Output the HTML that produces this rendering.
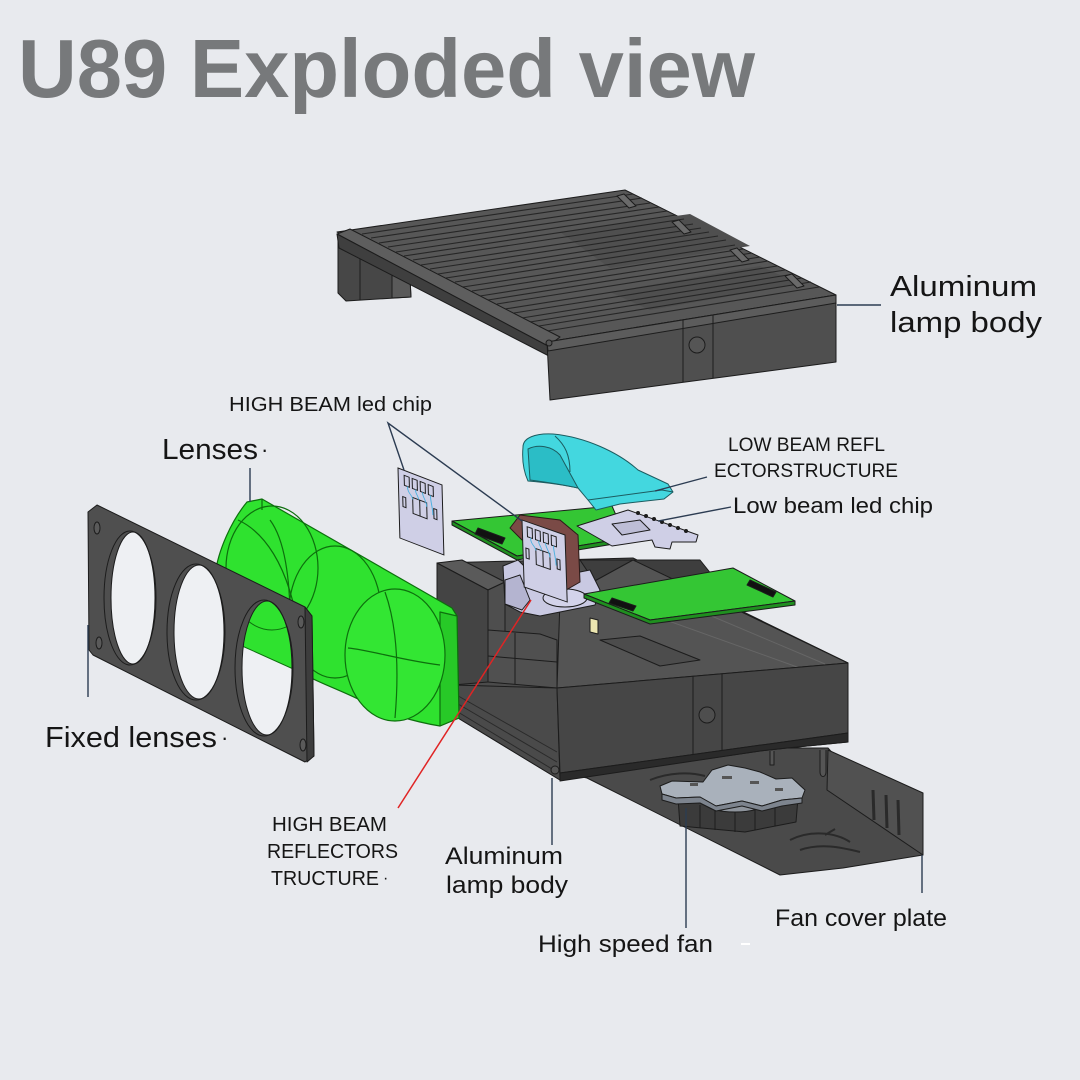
<!DOCTYPE html>
<html><head><meta charset="utf-8"><style>
html,body{margin:0;padding:0;background:#e8eaee;}
svg{display:block;}
</style></head><body>
<svg width="1080" height="1080" viewBox="0 0 1080 1080" xmlns="http://www.w3.org/2000/svg" font-family="'Liberation Sans', sans-serif">
<defs>
  <clipPath id="h1"><ellipse cx="133" cy="598" rx="22" ry="66"/></clipPath>
  <clipPath id="h2"><ellipse cx="199" cy="632" rx="25" ry="67"/></clipPath>
  <clipPath id="h3"><ellipse cx="267" cy="668" rx="25" ry="67"/></clipPath>
</defs>
<rect width="1080" height="1080" fill="#e8eaee"/>

<!-- Title -->
<text x="18" y="97" font-size="83" font-weight="bold" fill="#77797b" textLength="737" lengthAdjust="spacingAndGlyphs">U89 Exploded view</text>

<!-- ============ TOP ALUMINUM LAMP BODY ============ -->
<g stroke="#1c1c1c" stroke-width="1" stroke-linejoin="round">
  <polygon points="338,240 410,278 411,297 346,301 338,293" fill="#474747"/>
  <polygon points="392,270 410,280 411,297 392,298" fill="#5a5a5a"/>
  <line x1="360" y1="252" x2="360" y2="300"/>
  <polygon points="337,232 625,190 836,295 547,342" fill="#575757"/>
  <polygon points="560,232 690,214 750,246 610,268" fill="#4f4f4f" stroke="none"/>
  <polygon points="610,292 760,266 800,284 650,310" fill="#4f4f4f" stroke="none"/>
</g>
<g stroke="#262626" stroke-width="1.1">
  <line x1="362" y1="234" x2="633" y2="194"/>
  <line x1="371" y1="238" x2="642" y2="198"/>
  <line x1="379" y1="243" x2="650" y2="203"/>
  <line x1="388" y1="247" x2="659" y2="207"/>
  <line x1="396" y1="252" x2="667" y2="211"/>
  <line x1="404" y1="256" x2="676" y2="215"/>
  <line x1="413" y1="260" x2="684" y2="219"/>
  <line x1="421" y1="265" x2="693" y2="224"/>
  <line x1="430" y1="269" x2="701" y2="228"/>
  <line x1="438" y1="274" x2="709" y2="232"/>
  <line x1="446" y1="278" x2="718" y2="236"/>
  <line x1="455" y1="282" x2="726" y2="240"/>
  <line x1="463" y1="287" x2="735" y2="245"/>
  <line x1="472" y1="291" x2="743" y2="249"/>
  <line x1="480" y1="296" x2="752" y2="253"/>
  <line x1="488" y1="300" x2="760" y2="257"/>
  <line x1="497" y1="304" x2="768" y2="261"/>
  <line x1="505" y1="309" x2="777" y2="266"/>
  <line x1="514" y1="313" x2="785" y2="270"/>
  <line x1="522" y1="318" x2="794" y2="274"/>
  <line x1="530" y1="322" x2="802" y2="278"/>
  <line x1="539" y1="326" x2="811" y2="282"/>
  <line x1="547" y1="331" x2="819" y2="287"/>
</g>
<g stroke="#1c1c1c" stroke-width="1" stroke-linejoin="round">
  <polygon points="617,196 624,194 636,206 629,208" fill="#6a6a6a"/>
  <polygon points="672,222 679,220 691,232 684,234" fill="#6a6a6a"/>
  <polygon points="730,250 737,248 749,260 742,262" fill="#6a6a6a"/>
  <polygon points="785,276 792,274 804,286 797,288" fill="#6a6a6a"/>
  <polygon points="337,234 350,229 560,337 548,346" fill="#5e5e5e"/>
  <polygon points="337,234 548,346 549,356 339,248" fill="#3f3f3f"/>
  <polygon points="547,342 836,295 836,362 550,400" fill="#4f4f4f"/>
  <polygon points="547,342 836,295 836,303 548,351" fill="#5c5c5c"/>
  <line x1="683" y1="320" x2="683" y2="382"/>
  <line x1="713" y1="315" x2="713" y2="378"/>
  <circle cx="697" cy="345" r="8" fill="#555"/>
  <circle cx="549" cy="343" r="3" fill="#555"/>
</g>

<!-- ============ FAN COVER PLATE ============ -->
<g stroke="#1c1c1c" stroke-width="1" stroke-linejoin="round">
  <polygon points="560,772 760,748 828,748 923,855 843,868 780,875 587,778" fill="#4a4a4a"/>
  <polygon points="828,750 923,793 923,855 827,790" fill="#515151"/>
  <line x1="873" y1="790" x2="874" y2="820" stroke-width="3" stroke="#2a2a2a"/>
  <line x1="886" y1="795" x2="887" y2="828" stroke-width="3" stroke="#2a2a2a"/>
  <line x1="898" y1="800" x2="899" y2="835" stroke-width="3" stroke="#2a2a2a"/>
  <path d="M790,840 C810,830 835,832 850,842 M800,850 C820,843 840,847 860,852 M825,835 l10,-6" fill="none" stroke="#2a2a2a" stroke-width="2"/>
  <path d="M650,780 C670,772 690,772 705,776" fill="none" stroke="#2a2a2a" stroke-width="2"/>
</g>

<!-- ============ MAIN BODY ============ -->
<g stroke="#1c1c1c" stroke-width="1" stroke-linejoin="round">
  <polygon points="437,563 633,558 848,663 848,742 787,748 760,751 560,780 453,715 437,702" fill="#4b4b4b"/>
  <polygon points="580,560 700,560 720,585 600,590" fill="#3e3e3e"/>
  <polygon points="560,600 633,560 848,663 557,688" fill="#545454"/>
  <line x1="610" y1="600" x2="800" y2="668" stroke="#666"/>
  <line x1="650" y1="590" x2="825" y2="664" stroke="#666"/>
  <polygon points="600,640 640,636 700,660 660,666" fill="#4c4c4c"/>
  <polygon points="437,563 462,560 505,582 488,590" fill="#5a5a5a"/>
  <polygon points="437,563 488,590 488,682 453,685 437,702" fill="#444"/>
  <polygon points="488,590 505,582 505,640 488,645" fill="#4e4e4e"/>
  <polygon points="488,630 540,634 557,640 557,688 488,682" fill="#505050"/>
  <line x1="488" y1="656" x2="557" y2="662"/>
  <line x1="515" y1="633" x2="515" y2="684"/>
  <polygon points="453,685 557,688 560,780 453,715" fill="#4a4a4a"/>
  <line x1="453" y1="693" x2="557" y2="752" stroke="#2a2a2a"/>
  <line x1="453" y1="701" x2="557" y2="762" stroke="#2a2a2a"/>
  <line x1="453" y1="709" x2="557" y2="772" stroke="#2a2a2a"/>
  <polygon points="557,688 848,663 848,733 560,773" fill="#464646"/>
  <line x1="693" y1="676" x2="693" y2="755"/>
  <line x1="722" y1="674" x2="722" y2="751"/>
  <circle cx="707" cy="715" r="8" fill="#4e4e4e"/>
  <polygon points="560,773 848,733 848,742 787,748 760,751 560,781" fill="#2a2a2a"/>
  <circle cx="555" cy="770" r="4" fill="#555"/>
  <path d="M770,751 l0,14 l4,0 l0,-14 M820,750 l0,22 c0,6 6,6 6,0 l0,-22" fill="#555"/>
  <polygon points="590,618 598,620 598,634 590,632" fill="#ece6b0"/>
</g>

<!-- ============ FAN ============ -->
<g stroke="#1c1c1c" stroke-width="1" stroke-linejoin="round">
  <polygon points="678,798 798,798 796,822 745,832 680,826" fill="#3b3b3b"/>
  <line x1="700" y1="805" x2="700" y2="828"/>
  <line x1="715" y1="806" x2="715" y2="830"/>
  <line x1="735" y1="806" x2="735" y2="832"/>
  <line x1="755" y1="806" x2="755" y2="830"/>
  <line x1="775" y1="804" x2="775" y2="826"/>
  <ellipse cx="735" cy="803" rx="30" ry="9" fill="#8e949c"/>
  <polygon points="660,786 672,781 703,782 712,770 728,765 745,768 760,772 776,779 792,778 805,790 802,798 782,800 762,806 742,801 716,806 700,797 676,798 662,794" fill="#a9b1bb"/>
  <polygon points="662,794 676,798 700,797 716,806 742,801 762,806 782,800 802,798 802,803 782,806 762,811 742,806 716,811 700,803 676,804 662,800" fill="#7d848e"/>
  <rect x="690" y="783" width="8" height="3" fill="#555" stroke="none"/>
  <rect x="722" y="776" width="10" height="3" fill="#555" stroke="none"/>
  <rect x="750" y="781" width="9" height="3" fill="#555" stroke="none"/>
  <rect x="775" y="788" width="8" height="3" fill="#555" stroke="none"/>
</g>

<!-- ============ GREEN LENS ============ -->
<g stroke="#0d6f0d" stroke-width="1.2" stroke-linejoin="round">
  <path d="M247,502 L262,499 L452,608 L457,616 L459,718 L440,726 C415,722 380,712 360,700 C340,690 312,680 300,672 L240,645 C222,625 212,600 215,575 C218,550 232,520 247,502 Z" fill="#2fe22f"/>
  <polygon points="440,612 457,616 459,718 440,726" fill="#27c927"/>
  <path d="M238,520 C260,530 290,560 300,640" fill="none"/>
  <ellipse cx="272" cy="568" rx="46" ry="62" fill="none"/>
  <ellipse cx="335" cy="612" rx="46" ry="66" fill="none"/>
  <ellipse cx="395" cy="655" rx="50" ry="66" fill="#33e633"/>
  <path d="M385,592 C395,620 400,660 395,718 M348,648 C370,650 400,660 440,665 M270,520 C285,540 290,580 290,620" fill="none"/>
  <line x1="262" y1="499" x2="262" y2="510"/>
</g>

<!-- ============ FIXED LENS FRAME ============ -->
<g stroke="#1c1c1c" stroke-width="1" stroke-linejoin="round">
  <path fill-rule="evenodd" fill="#4f4f4f" d="M88,512 L97,505 L305,607 L312,616 L314,756 L305,762 L93,655 L89,650 Z"/>
  <g clip-path="url(#h1)"><rect x="100" y="520" width="70" height="160" fill="#eef0f3" stroke="none"/></g>
  <g clip-path="url(#h2)"><rect x="165" y="555" width="70" height="160" fill="#eef0f3" stroke="none"/></g>
  <g clip-path="url(#h3)">
    <rect x="235" y="595" width="70" height="160" fill="#eef0f3" stroke="none"/>
    <path d="M247,502 L262,499 L452,608 L457,616 L459,718 L440,726 C415,722 380,712 360,700 C340,690 312,680 300,672 L240,645 C222,625 212,600 215,575 C218,550 232,520 247,502 Z" fill="#2fe22f" stroke="#0d6f0d"/>
    <ellipse cx="272" cy="568" rx="46" ry="62" fill="none" stroke="#0d6f0d"/>
  </g>
  <ellipse cx="130" cy="598" rx="26" ry="67" fill="none"/>
  <ellipse cx="196" cy="632" rx="29" ry="68" fill="none"/>
  <ellipse cx="264" cy="668" rx="29" ry="68" fill="none"/>
  <ellipse cx="133" cy="598" rx="22" ry="66" fill="none"/>
  <ellipse cx="199" cy="632" rx="25" ry="67" fill="none"/>
  <ellipse cx="267" cy="668" rx="25" ry="67" fill="none"/>
  <polygon points="305,607 312,616 314,756 307,762" fill="#3d3d3d"/>
  <ellipse cx="97" cy="528" rx="3" ry="6" fill="#5a5a5a"/>
  <ellipse cx="99" cy="643" rx="3" ry="6" fill="#5a5a5a"/>
  <ellipse cx="301" cy="622" rx="3" ry="6" fill="#5a5a5a"/>
  <ellipse cx="303" cy="745" rx="3" ry="6" fill="#5a5a5a"/>
</g>

<!-- ============ UPPER LEFT PCB ============ -->
<g stroke="#1c1c1c" stroke-width="1" stroke-linejoin="round">
  <polygon points="452,521 612,506 626,538 517,556" fill="#34c634"/>
  <polygon points="452,521 517,556 626,538 626,542 517,560 452,525" fill="#1f8f1f"/>
  <polygon points="478,528 505,538 502,544 475,534" fill="#111"/>
</g>

<!-- Low beam chip -->
<g stroke="#1c1c1c" stroke-width="1" stroke-linejoin="round">
  <polygon points="577,526 628,510 698,535 696,542 672,542 670,549 655,547 652,540 612,546" fill="#cfcfe6"/>
  <polygon points="612,524 640,520 650,530 622,535" fill="#bdbdd6"/>
  <g fill="#1c1c1c" stroke="none">
    <circle cx="638" cy="513" r="2"/><circle cx="646" cy="516" r="2"/><circle cx="654" cy="519" r="2"/>
    <circle cx="662" cy="522" r="2"/><circle cx="670" cy="525" r="2"/><circle cx="678" cy="528" r="2"/>
    <circle cx="686" cy="531" r="2"/>
  </g>
</g>

<!-- Cyan reflector -->
<g stroke="#1c5c60" stroke-width="1" stroke-linejoin="round">
  <path d="M523,447 C523,438 535,433 553,434 C585,437 618,452 638,470 L668,484 L673,492 L664,499 L620,504 L596,510 L588,500 L578,488 C560,484 540,482 528,481 C523,470 522,458 523,447 Z" fill="#43d7df"/>
  <path d="M528,449 C538,444 552,446 560,455 L578,488 C560,484 545,482 530,480 Z" fill="#2bbdc6"/>
  <path d="M588,500 L662,490 L673,492" fill="none"/>
  <path d="M555,436 C565,445 570,455 570,472" fill="none"/>
</g>

<!-- High beam chip 1 -->
<g transform="matrix(1,0.386,0.027,1,398,468)" stroke="#1c1c1c" stroke-width="1">
  <rect x="0" y="0" width="44" height="70" fill="#cfcfe6"/>
  <rect x="6" y="5" width="5" height="10" fill="#cfcfe6"/>
  <rect x="14" y="5" width="5" height="10" fill="#cfcfe6"/>
  <rect x="22" y="5" width="5" height="10" fill="#cfcfe6"/>
  <rect x="30" y="5" width="5" height="10" fill="#cfcfe6"/>
  <rect x="14" y="24" width="14" height="16" fill="#cfcfe6"/>
  <line x1="21" y1="24" x2="21" y2="40"/>
  <rect x="4" y="27" width="3" height="10" fill="#cfcfe6"/>
  <rect x="35" y="27" width="3" height="10" fill="#cfcfe6"/>
  <path d="M9,15 C9,22 14,22 14,26 M17,15 C17,20 20,20 20,24 M24,15 C24,20 28,22 28,28 M32,15 C32,22 34,26 34,34" fill="none" stroke="#4bb0e0"/>
</g>

<!-- Lavender bracket -->
<g stroke="#1c1c1c" stroke-width="1" stroke-linejoin="round">
  <polygon points="503,566 518,560 524,566 565,575 590,570 600,590 595,605 540,616 520,612 505,604" fill="#c9c9e2"/>
  <polygon points="505,580 520,575 530,600 522,610 505,604" fill="#b4b4d0"/>
  <ellipse cx="565" cy="598" rx="22" ry="9" fill="#d3d3ea"/>
</g>

<!-- Brown part -->
<polygon points="510,528 520,515 560,520 578,535 580,582 566,590 565,540 522,540" fill="#7a4a46" stroke="#2a1a18" stroke-width="1"/>

<!-- High beam chip 2 -->
<g transform="matrix(1,0.349,0.033,1,522,520)" stroke="#1c1c1c" stroke-width="1">
  <rect x="0" y="0" width="43" height="67" fill="#cfcfe6"/>
  <rect x="5" y="5" width="5" height="10" fill="#cfcfe6"/>
  <rect x="13" y="5" width="5" height="10" fill="#cfcfe6"/>
  <rect x="21" y="5" width="5" height="10" fill="#cfcfe6"/>
  <rect x="29" y="5" width="5" height="10" fill="#cfcfe6"/>
  <rect x="13" y="24" width="14" height="16" fill="#cfcfe6"/>
  <line x1="20" y1="24" x2="20" y2="40"/>
  <rect x="3" y="27" width="3" height="10" fill="#cfcfe6"/>
  <rect x="34" y="27" width="3" height="10" fill="#cfcfe6"/>
  <path d="M8,15 C8,22 13,22 13,26 M16,15 C16,20 19,20 19,24 M23,15 C23,20 27,22 27,28 M31,15 C31,22 33,26 33,34" fill="none" stroke="#4bb0e0"/>
</g>

<!-- Right PCB -->
<g stroke="#1c1c1c" stroke-width="1" stroke-linejoin="round">
  <polygon points="584,594 733,568 795,601 650,620" fill="#34c634"/>
  <polygon points="584,594 650,620 795,601 795,605 650,624 584,598" fill="#1f8f1f"/>
  <polygon points="612,598 636,606 633,611 609,603" fill="#111"/>
  <polygon points="750,580 776,592 773,597 747,585" fill="#111"/>
</g>

<!-- ============ CONNECTOR LINES ============ -->
<g stroke="#2c3c52" stroke-width="1.4" fill="none">
  <line x1="837" y1="305" x2="881" y2="305"/>
  <polyline points="404,470 388,423 522,521"/>
  <line x1="250" y1="468" x2="250" y2="502"/>
  <line x1="707" y1="477" x2="655" y2="491"/>
  <line x1="731" y1="507" x2="658" y2="521"/>
  <line x1="88" y1="625" x2="88" y2="697"/>
  <line x1="552" y1="778" x2="552" y2="845"/>
  <line x1="686" y1="808" x2="686" y2="928"/>
  <line x1="922" y1="855" x2="922" y2="893"/>
</g>
<line x1="398" y1="808" x2="531" y2="600" stroke="#e02424" stroke-width="1.5"/>
<rect x="741" y="943" width="9" height="2" fill="#ffffff"/>

<!-- ============ LABELS ============ -->
<g fill="#151515">
  <text x="890" y="296" font-size="29" textLength="147" lengthAdjust="spacingAndGlyphs">Aluminum</text>
  <text x="890" y="332" font-size="29" textLength="152" lengthAdjust="spacingAndGlyphs">lamp body</text>
  <text x="229" y="411" font-size="20" textLength="203" lengthAdjust="spacingAndGlyphs">HIGH BEAM led chip</text>
  <text x="162" y="459" font-size="29" textLength="96" lengthAdjust="spacingAndGlyphs">Lenses</text>
  <text x="261" y="457" font-size="22">·</text>
  <text x="728" y="451" font-size="19" textLength="157" lengthAdjust="spacingAndGlyphs">LOW BEAM REFL</text>
  <text x="714" y="477" font-size="19" textLength="184" lengthAdjust="spacingAndGlyphs">ECTORSTRUCTURE</text>
  <text x="733" y="513" font-size="22" textLength="200" lengthAdjust="spacingAndGlyphs">Low beam led chip</text>
  <text x="45" y="747" font-size="29" textLength="172" lengthAdjust="spacingAndGlyphs">Fixed lenses</text>
  <text x="221" y="745" font-size="22">·</text>
  <text x="272" y="831" font-size="20" textLength="115" lengthAdjust="spacingAndGlyphs">HIGH BEAM</text>
  <text x="267" y="858" font-size="20" textLength="131" lengthAdjust="spacingAndGlyphs">REFLECTORS</text>
  <text x="271" y="885" font-size="20" textLength="108" lengthAdjust="spacingAndGlyphs">TRUCTURE</text>
  <text x="383" y="883" font-size="16">·</text>
  <text x="445" y="864" font-size="24" textLength="118" lengthAdjust="spacingAndGlyphs">Aluminum</text>
  <text x="446" y="893" font-size="24" textLength="122" lengthAdjust="spacingAndGlyphs">lamp body</text>
  <text x="538" y="952" font-size="24" textLength="175" lengthAdjust="spacingAndGlyphs">High speed fan</text>
  <text x="775" y="926" font-size="24" textLength="172" lengthAdjust="spacingAndGlyphs">Fan cover plate</text>
</g>
</svg>
</body></html>
